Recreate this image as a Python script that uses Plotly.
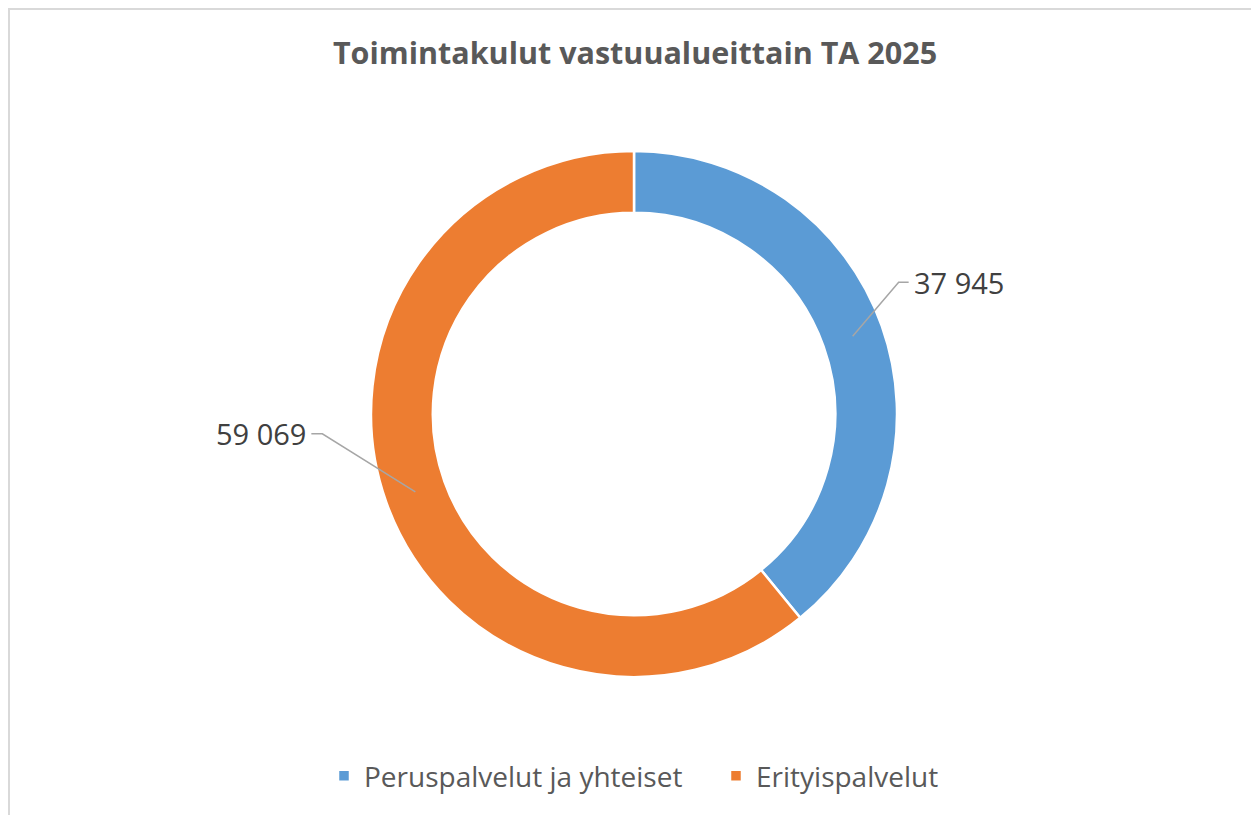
import math
import plotly.graph_objects as go

FONT = "Open Sans, sans-serif"
W, H = 1259, 815
OFF = 8  # page body margin

labels = ["Peruspalvelut ja yhteiset", "Erityispalvelut"]
values = [37945, 59069]
value_text = ["37 945", "59 069"]
colors = ["#5B9BD5", "#ED7D31"]

# donut geometry in page pixels
CX, CY, R_OUT, HOLE = 634, 414, 263, 0.765
FW, FH = W - OFF, H - OFF


def px(x):
    return (x - OFF) / FW


def py(y):
    return 1 - (y - OFF) / FH


fig = go.Figure()
fig.add_trace(go.Pie(
    labels=labels, values=values, hole=HOLE, sort=False,
    direction="clockwise", rotation=0,
    marker=dict(colors=colors, line=dict(color="white", width=2.5)),
    textinfo="none", hoverinfo="label+value",
    domain=dict(x=[px(CX - R_OUT), px(CX + R_OUT)], y=[py(CY + R_OUT), py(CY - R_OUT)]),
))

# leader lines + value labels, anchored at mid-ring of each slice
total = sum(values)
r_mid = R_OUT * (1 + HOLE) / 2
cum = 0
shapes = []
annotations = []
for v, txt in zip(values, value_text):
    mid = (cum + v / 2) / total * 2 * math.pi
    cum += v
    sx, sy = CX + r_mid * math.sin(mid), CY - r_mid * math.cos(mid)
    side = 1 if math.sin(mid) >= 0 else -1
    if side > 0:
        ex, ey = sx + 46, sy - 54
        tx = ex + 10
    else:
        ex, ey = sx - 93, sy - 58
        tx = ex - 11
    shapes.append(dict(type="path", xref="paper", yref="paper",
        path=f"M{px(sx)},{py(sy)} L{px(ex)},{py(ey)} L{px(tx)},{py(ey)}",
        line=dict(color="#A6A6A6", width=1.5)))
    annotations.append(dict(text=txt, xref="paper", yref="paper",
        x=px(tx + side * 3), y=py(ey), xanchor="left" if side > 0 else "right",
        yanchor="middle", showarrow=False,
        font=dict(size=29, family=FONT, color="#404040")))

# chart frame (left and top edges only visible)
shapes.append(dict(type="path", xref="paper", yref="paper",
    path=f"M{px(9)},{py(H + 5)} L{px(9)},{py(9)} L{px(W + 5)},{py(9)}",
    line=dict(color="#D9D9D9", width=2)))

fig.update_layout(
    width=FW, height=FH,
    margin=dict(l=0, r=0, t=0, b=0),
    paper_bgcolor="white", plot_bgcolor="white",
    font=dict(family=FONT, color="#595959"),
    title=dict(text="<b>Toimintakulut vastuualueittain TA 2025</b>",
               x=px(635), xanchor="center", y=py(53), yanchor="middle",
               font=dict(size=30.5, family=FONT, color="#595959")),
    legend=dict(orientation="h", x=px(324), xanchor="left", y=py(776), yanchor="middle",
                font=dict(size=28, family=FONT, color="#595959"),
                entrywidth=347, traceorder="normal"),
    shapes=shapes, annotations=annotations,
)

fig.write_html("out.html")
